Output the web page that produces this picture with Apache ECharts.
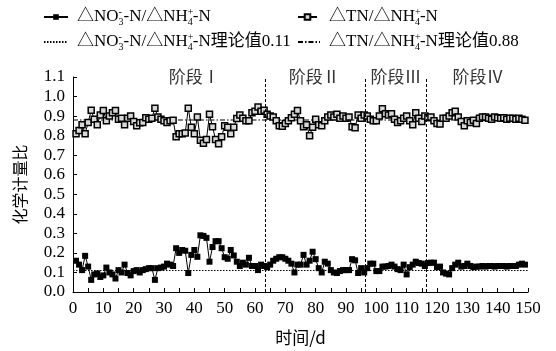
<!DOCTYPE html>
<html>
<head>
<meta charset="utf-8">
<script src="https://cdn.jsdelivr.net/npm/echarts@6/dist/echarts.min.js"></script>
<style>
  html, body { margin: 0; padding: 0; background: #fff; }
  #chart { width: 556px; height: 351px; }
</style>
</head>
<body>
<div id="chart"></div>
<script>
// Operating day of each sample
const days = [];
for (let d = 1; d <= 149; d++) days.push(d);

// ΔNO3--N / ΔNH4+-N per day
const nitrateRatio = [
  0.16, 0.14, 0.112, 0.185, 0.13, 0.062, 0.09, 0.095, 0.077, 0.085,
  0.125, 0.10, 0.09, 0.069, 0.112, 0.10, 0.14, 0.097, 0.085, 0.107,
  0.112, 0.10, 0.112, 0.117, 0.122, 0.122, 0.062, 0.122, 0.125, 0.13,
  0.145, 0.14, 0.133, 0.224, 0.20, 0.215, 0.211, 0.097, 0.19, 0.215,
  0.18, 0.29, 0.287, 0.277, 0.155, 0.23, 0.26, 0.26, 0.224, 0.178,
  0.17, 0.215, 0.187, 0.155, 0.133, 0.15, 0.14, 0.175, 0.133, 0.133,
  0.112, 0.14, 0.133, 0.127, 0.14, 0.16, 0.17, 0.178, 0.178, 0.17,
  0.16, 0.145, 0.10, 0.14, 0.14, 0.19, 0.14, 0.16, 0.206, 0.168,
  0.122, 0.10, 0.155, 0.145, 0.112, 0.10, 0.097, 0.107, 0.112, 0.112,
  0.112, 0.168, 0.162, 0.097, 0.122, 0.10, 0.122, 0.145, 0.145, 0.107,
  0.107, 0.13, 0.13, 0.133, 0.14, 0.13, 0.117, 0.112, 0.14, 0.09,
  0.127, 0.14, 0.155, 0.148, 0.145, 0.133, 0.148, 0.15, 0.15, 0.127,
  0.13, 0.10, 0.094, 0.09, 0.122, 0.14, 0.15, 0.13, 0.133, 0.145,
  0.133, 0.127, 0.13, 0.13, 0.133, 0.13, 0.133, 0.133, 0.13, 0.133,
  0.133, 0.133, 0.13, 0.133, 0.133, 0.133, 0.14, 0.145, 0.14
];

// ΔTN / ΔNH4+-N per day
const tnRatio = [
  0.81, 0.826, 0.856, 0.81, 0.867, 0.93, 0.884, 0.856, 0.905, 0.928,
  0.876, 0.90, 0.917, 0.928, 0.884, 0.889, 0.856, 0.889, 0.90, 0.872,
  0.851, 0.866, 0.867, 0.892, 0.884, 0.889, 0.94, 0.895, 0.884, 0.876,
  0.867, 0.876, 0.879, 0.794, 0.81, 0.81, 0.813, 0.94, 0.843, 0.81,
  0.895, 0.777, 0.761, 0.78, 0.909, 0.846, 0.78, 0.758, 0.794, 0.851,
  0.843, 0.81, 0.843, 0.888, 0.905, 0.889, 0.876, 0.876, 0.917, 0.925,
  0.947, 0.925, 0.93, 0.909, 0.90, 0.895, 0.876, 0.851, 0.848, 0.862,
  0.876, 0.892, 0.909, 0.928, 0.876, 0.846, 0.856, 0.80, 0.843, 0.884,
  0.856, 0.851, 0.876, 0.895, 0.905, 0.895, 0.909, 0.889, 0.90, 0.889,
  0.895, 0.846, 0.84, 0.905, 0.889, 0.905, 0.90, 0.884, 0.876, 0.876,
  0.90, 0.938, 0.912, 0.905, 0.912, 0.884, 0.867, 0.876, 0.889, 0.90,
  0.876, 0.856, 0.917, 0.889, 0.872, 0.90, 0.892, 0.895, 0.876, 0.862,
  0.859, 0.889, 0.889, 0.90, 0.917, 0.925, 0.895, 0.872, 0.851, 0.876,
  0.867, 0.879, 0.862, 0.889, 0.895, 0.895, 0.889, 0.884, 0.895, 0.892,
  0.889, 0.892, 0.884, 0.889, 0.889, 0.884, 0.889, 0.884, 0.879
];

// Theoretical stoichiometric ratios
const theoryNitrate = 0.11;
const theoryTN = 0.88;

// Stage boundaries (day) and stage captions
const stageBounds = [63.4, 96.2, 116.3];
const stageNames = ['阶段Ⅰ', '阶段Ⅱ', '阶段Ⅲ', '阶段Ⅳ'];
const stageLabelDays = [40, 79.5, 106.5, 133.5];

const xMin = 0, xMax = 150, xStep = 10;
const yMin = 0, yMax = 1.1, yStep = 0.1;

const nameA = '△NO₃⁻-N/△NH₄⁺-N';
const nameB = '△TN/△NH₄⁺-N';
const nameC = nameA + '理论值0.11';
const nameD = nameB + '理论值0.88';

const SERIF = "Liberation Serif, Times New Roman, Noto Sans CJK SC, serif";
const CJK = "Noto Sans CJK SC, Liberation Serif, sans-serif";

// Rich-text markup: stacked super/subscripts
function richName(n) {
  return n.replace('NO₃⁻', 'NO{sp|-}{sb|3}')
          .replace(/NH₄⁺/g, 'NH{sp|+}{sb|4}');
}
const richStyles = {
  sp: { fontSize: 10, fontFamily: SERIF, width: 0, verticalAlign: 'top', lineHeight: 10, color: '#000' },
  sb: { fontSize: 10, fontFamily: SERIF, verticalAlign: 'bottom', lineHeight: 10, color: '#000' }
};

// Serif numerals on both axes, via rich text
const numRich = { n: { fontSize: 17, fontFamily: SERIF, color: '#000' } };

function legendAt(name, left, top, itemWidth, padLeft, hideSymbol) {
  const lg = {
    data: [name],
    left: left, top: top,
    padding: 0,
    itemWidth: itemWidth, itemHeight: 7,
    selectedMode: false,
    formatter: richName,
    textStyle: {
      fontSize: 17, fontFamily: SERIF, color: '#000', lineHeight: 20,
      padding: [0, 0, 0, padLeft],
      rich: richStyles
    }
  };
  if (hideSymbol) lg.itemStyle = { opacity: 0 };
  return lg;
}

const chart = echarts.init(document.getElementById('chart'), null, { renderer: 'canvas' });

chart.setOption({
  backgroundColor: '#fff',
  animation: false,
  textStyle: { fontFamily: SERIF, color: '#000' },
  legend: [
    legendAt(nameA, 43, 7, 24, 4, false),
    legendAt(nameB, 297, 7, 19, 7, false),
    legendAt(nameC, 43, 32, 24, 4, true),
    legendAt(nameD, 297, 32, 22, 4, true)
  ],
  grid: { left: 73, right: 28, top: 77, bottom: 53 },
  xAxis: {
    type: 'value', min: xMin, max: xMax, interval: xStep,
    name: '时间/d', nameLocation: 'middle', nameGap: 37,
    nameTextStyle: { fontSize: 17, fontFamily: CJK, color: '#000' },
    axisLine: { lineStyle: { color: '#000', width: 1 } },
    axisTick: { inside: true, length: 4, lineStyle: { color: '#000' } },
    minorTick: { show: true, splitNumber: 2, length: 4, lineStyle: { color: '#000' } },
    splitLine: { show: false },
    axisLabel: { fontSize: 17, fontFamily: SERIF, color: '#000', margin: 8,
                 formatter: v => '{n|' + v + '}', rich: numRich }
  },
  yAxis: {
    type: 'value', min: yMin, max: yMax, interval: yStep,
    name: '化学计量比', nameLocation: 'middle', nameGap: 45,
    nameTextStyle: { fontSize: 16, fontFamily: CJK, color: '#000' },
    axisLine: { show: true, lineStyle: { color: '#000', width: 1 } },
    axisTick: { inside: true, length: 4, lineStyle: { color: '#000' } },
    splitLine: { show: false },
    axisLabel: { fontSize: 17, fontFamily: SERIF, color: '#000', margin: 8,
                 formatter: v => '{n|' + v.toFixed(1) + '}', rich: numRich }
  },
  series: [
    {
      name: nameC, type: 'line', symbol: 'none', silent: true,
      data: [[xMin, theoryNitrate], [xMax, theoryNitrate]],
      itemStyle: { color: '#000' },
      lineStyle: { color: '#000', width: 1, type: [1.5, 1.5] }
    },
    {
      name: nameD, type: 'line', symbol: 'none', silent: true,
      data: [[xMin, theoryTN], [xMax, theoryTN]],
      itemStyle: { color: '#000' },
      lineStyle: { color: '#000', width: 1, type: [5, 2, 1.5, 2] }
    },
    {
      name: nameA, type: 'line',
      data: days.map((d, i) => [d, nitrateRatio[i]]),
      symbol: 'rect', symbolSize: 6,
      itemStyle: { color: '#000' },
      lineStyle: { color: '#000', width: 1 }
    },
    {
      name: nameB, type: 'line',
      data: days.map((d, i) => [d, tnRatio[i]]),
      symbol: 'rect', symbolSize: 6,
      itemStyle: { color: '#d8d8d8', borderColor: '#000', borderWidth: 1.5 },
      lineStyle: { color: '#000', width: 1 }
    },
    {
      name: 'stages', type: 'scatter', silent: true, clip: false,
      symbolSize: 1,
      itemStyle: { color: 'rgba(0,0,0,0)' },
      data: stageNames.map((s, i) => ({ value: [stageLabelDays[i], yMax], name: s })),
      label: {
        show: true, position: 'inside', formatter: p => p.name,
        fontSize: 17, fontFamily: CJK, color: '#000'
      },
      markLine: {
        silent: true, symbol: 'none',
        label: { show: false },
        lineStyle: { color: '#000', width: 1, type: [3, 2] },
        data: stageBounds.map(b => ({ xAxis: b }))
      }
    }
  ]
});
</script>
</body>
</html>
